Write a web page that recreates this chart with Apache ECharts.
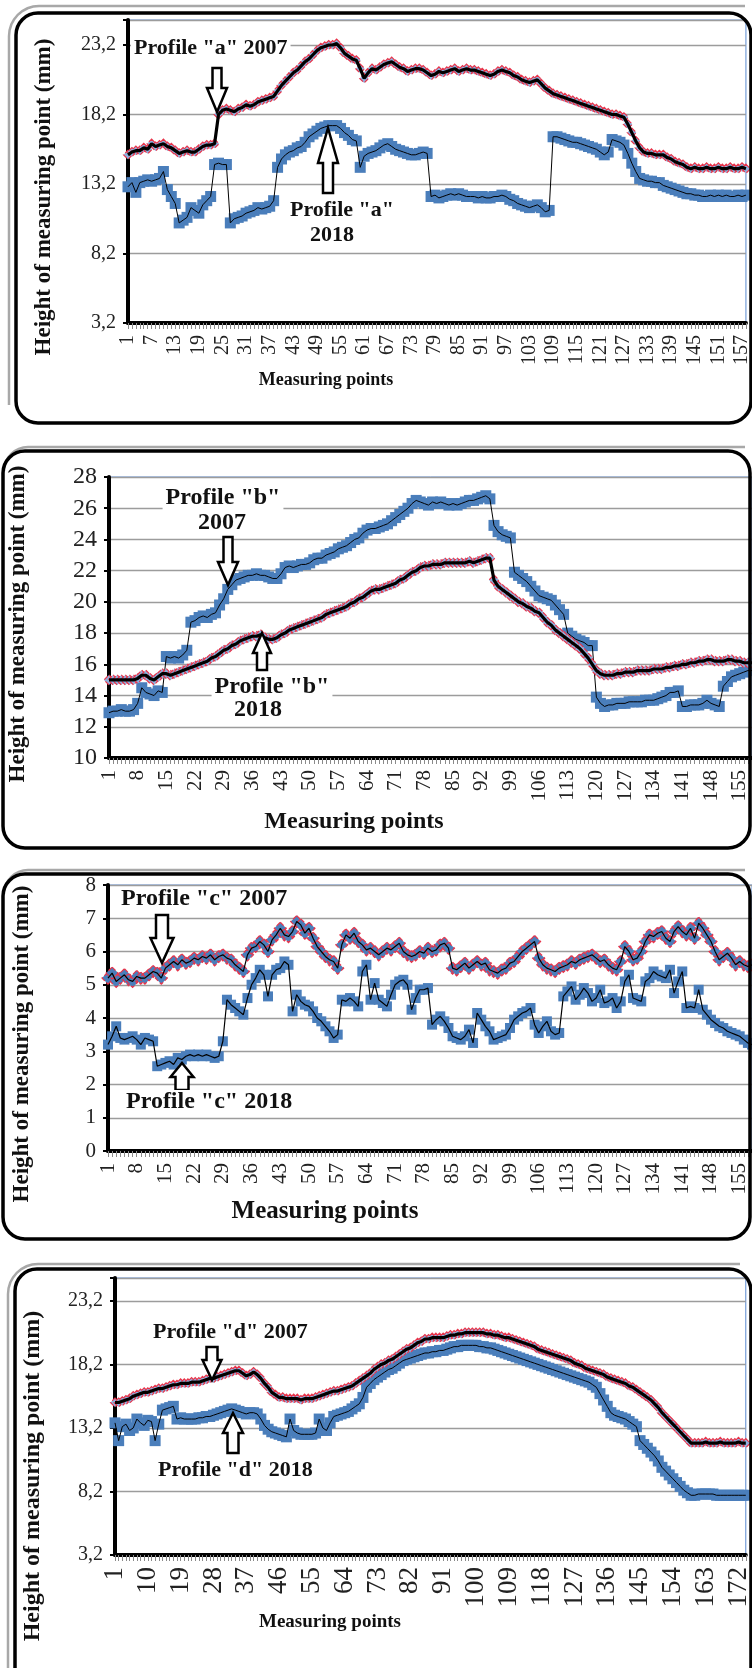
<!DOCTYPE html>
<html>
<head>
<meta charset="utf-8">
<script src="https://cdn.jsdelivr.net/npm/echarts@6/dist/echarts.min.js"></script>
<style>
html,body{margin:0;padding:0;background:#fff;}
#chart{width:752px;height:1668px;}
</style>
</head>
<body>
<div id="chart"></div>
<script>
// ---------- DATA ----------
// Profile "a" (158 measuring points)
const aYear2007 = [15.3,15.5,15.6,15.6,15.8,15.7,16.1,15.9,16.0,16.1,
15.9,15.8,15.6,15.4,15.5,15.6,15.5,15.5,15.7,15.9,
16.0,16.0,16.1,18.2,18.5,18.6,18.5,18.4,18.6,18.7,
18.9,18.8,18.9,19.1,19.2,19.3,19.4,19.5,19.9,20.3,
20.6,20.9,21.2,21.4,21.7,22.0,22.2,22.5,22.8,23.0,
23.1,23.2,23.2,23.3,23.0,22.6,22.4,22.2,22.1,21.5,
20.8,21.2,21.5,21.4,21.6,21.8,21.9,22.0,21.8,21.6,
21.5,21.3,21.4,21.5,21.5,21.4,21.2,21.0,21.1,21.3,
21.2,21.3,21.4,21.5,21.3,21.4,21.5,21.4,21.4,21.3,
21.2,21.1,21.0,21.1,21.3,21.4,21.3,21.2,21.0,20.9,
20.7,20.6,20.5,20.6,20.7,20.4,20.1,19.9,19.7,19.6,
19.5,19.4,19.3,19.2,19.1,19.0,18.9,18.8,18.7,18.6,
18.5,18.4,18.3,18.2,18.2,18.1,18.0,17.5,16.9,16.3,
15.8,15.5,15.4,15.4,15.3,15.3,15.3,15.1,15.0,14.8,
14.7,14.6,14.4,14.3,14.4,14.3,14.3,14.4,14.3,14.3,
14.4,14.3,14.3,14.4,14.3,14.3,14.4,14.3];
const aYear2018 = [13.0,13.3,12.6,13.3,13.4,13.5,13.4,13.5,13.6,14.1,
12.8,12.3,11.8,10.4,10.6,10.8,11.5,11.3,11.1,11.7,
12.0,12.3,14.6,14.7,14.6,14.6,10.4,10.7,10.8,10.9,
11.1,11.2,11.3,11.5,11.4,11.5,11.6,12.0,14.4,15.0,
15.3,15.5,15.6,15.8,15.9,16.2,16.6,16.8,17.0,17.2,
17.3,17.4,17.4,17.4,17.2,16.9,16.7,16.4,16.3,14.4,
15.2,15.4,15.5,15.6,15.8,16.0,16.1,15.9,15.7,15.6,
15.5,15.4,15.3,15.3,15.4,15.5,15.4,12.3,12.4,12.2,
12.3,12.4,12.5,12.4,12.5,12.4,12.3,12.3,12.3,12.2,
12.3,12.2,12.2,12.3,12.3,12.4,12.3,12.1,12.0,11.8,
11.7,11.6,11.5,11.6,11.7,11.5,11.2,11.3,16.6,16.6,
16.5,16.4,16.3,16.2,16.2,16.1,16.0,15.9,15.8,15.7,
15.5,15.3,15.5,16.4,16.3,16.2,16.0,15.4,14.7,14.1,
13.6,13.5,13.4,13.4,13.3,13.3,13.1,13.0,12.9,12.8,
12.7,12.6,12.5,12.5,12.4,12.4,12.3,12.3,12.4,12.3,
12.4,12.3,12.4,12.3,12.3,12.4,12.3,12.4];

// Profile "b" (158 measuring points)
const bYear2007 = [12.9,13.0,13.0,13.1,13.0,13.0,13.1,13.5,14.5,14.2,
14.1,14.0,14.3,14.2,16.5,16.4,16.5,16.4,16.6,16.9,
18.7,18.8,19.0,19.1,19.0,19.2,19.3,19.8,20.2,20.8,
21.1,21.4,21.5,21.6,21.7,21.7,21.8,21.7,21.7,21.6,
21.5,21.5,21.8,22.2,22.3,22.2,22.3,22.4,22.4,22.5,
22.7,22.8,22.8,23.0,23.1,23.2,23.4,23.5,23.6,23.8,
24.0,24.1,24.4,24.6,24.7,24.7,24.8,24.9,25.0,25.2,
25.4,25.6,25.8,26.0,26.3,26.5,26.4,26.3,26.2,26.4,
26.3,26.4,26.3,26.2,26.3,26.2,26.3,26.4,26.5,26.5,
26.6,26.7,26.8,26.6,24.9,24.5,24.3,24.2,24.1,21.9,
21.7,21.5,21.3,21.0,20.7,20.4,20.3,20.2,20.1,19.8,
19.5,19.2,18.0,17.8,17.6,17.5,17.4,17.2,17.2,13.9,
13.5,13.3,13.4,13.4,13.5,13.5,13.5,13.6,13.6,13.6,
13.6,13.7,13.7,13.7,13.8,13.9,14.0,14.2,14.2,14.3,
13.3,13.3,13.4,13.4,13.4,13.5,13.7,13.5,13.4,13.3,
14.6,14.9,15.2,15.3,15.4,15.5,15.6,15.6];
const bYear2018 = [15.0,15.0,15.0,15.0,15.0,15.0,15.0,15.1,15.3,15.3,
15.1,15.0,15.2,15.4,15.4,15.3,15.4,15.5,15.6,15.7,
15.8,15.9,16.0,16.1,16.2,16.4,16.5,16.7,16.9,17.0,
17.2,17.3,17.5,17.6,17.7,17.8,17.8,17.9,17.7,17.6,
17.6,17.7,17.9,18.0,18.2,18.3,18.4,18.5,18.6,18.7,
18.8,18.9,19.0,19.2,19.3,19.4,19.5,19.6,19.7,19.9,
20.0,20.2,20.3,20.5,20.7,20.8,20.8,20.9,21.0,21.1,
21.2,21.4,21.5,21.7,21.9,22.0,22.2,22.3,22.3,22.4,
22.4,22.4,22.5,22.5,22.5,22.5,22.5,22.5,22.6,22.5,
22.6,22.7,22.8,22.8,21.4,21.0,20.8,20.6,20.4,20.2,
20.0,19.9,19.7,19.6,19.4,19.3,19.0,18.7,18.5,18.2,
18.0,17.8,17.6,17.4,17.2,17.0,16.7,16.4,16.0,15.6,
15.4,15.3,15.3,15.3,15.4,15.4,15.5,15.5,15.5,15.6,
15.6,15.6,15.6,15.7,15.7,15.7,15.8,15.8,15.9,15.9,
16.0,16.0,16.1,16.1,16.2,16.2,16.3,16.3,16.2,16.2,
16.2,16.3,16.3,16.2,16.2,16.1,16.1,16.1];

// Profile "c" (158 measuring points)
const cYear2007 = [5.2,5.35,5.1,5.2,5.3,5.15,5.1,5.25,5.2,5.2,
5.3,5.4,5.35,5.2,5.5,5.6,5.7,5.6,5.75,5.65,
5.7,5.8,5.75,5.85,5.8,5.9,5.75,5.85,5.9,5.8,
5.75,5.6,5.5,5.4,5.9,6.1,6.15,6.3,6.2,6.0,
6.35,6.5,6.7,6.5,6.45,6.6,6.9,6.8,6.55,6.7,
6.4,6.15,6.0,5.85,5.75,5.7,5.5,6.2,6.5,6.4,
6.55,6.3,6.2,6.05,6.1,6.0,5.9,6.0,6.1,6.05,
6.15,6.25,6.0,5.9,5.85,5.9,6.0,5.95,6.1,6.0,
6.05,6.2,6.25,6.1,5.5,5.45,5.55,5.65,5.5,5.6,
5.7,5.6,5.65,5.45,5.4,5.35,5.45,5.5,5.65,5.7,
5.85,6.0,6.1,6.2,6.3,5.8,5.6,5.5,5.45,5.4,
5.5,5.55,5.6,5.7,5.65,5.75,5.8,5.85,5.9,5.8,
5.7,5.75,5.6,5.5,5.45,5.7,6.15,6.0,5.75,5.8,
6.0,6.3,6.5,6.45,6.55,6.6,6.4,6.3,6.6,6.75,
6.6,6.5,6.7,6.4,6.85,6.7,6.5,6.3,6.0,5.75,
5.85,5.95,5.8,5.6,5.7,5.6,5.55,5.6];
const cYear2018 = [3.2,3.45,3.75,3.4,3.35,3.4,3.45,3.35,3.2,3.4,
3.35,3.3,2.55,2.6,2.65,2.7,2.6,2.8,2.75,2.85,
2.9,2.85,2.9,2.85,2.9,2.85,2.8,2.85,3.3,4.55,
4.4,4.3,4.2,4.1,4.6,5.0,5.2,5.45,5.3,4.65,
5.3,5.45,5.5,5.7,5.6,4.2,4.7,4.5,4.4,4.35,
4.2,4.0,3.9,3.75,3.6,3.4,3.5,4.55,4.5,4.6,
4.5,4.35,5.4,5.6,4.55,5.05,4.55,4.45,4.35,4.7,
5.0,5.1,5.15,5.0,4.25,4.6,4.85,4.85,4.9,3.8,
3.95,4.05,3.9,3.7,3.45,3.4,3.35,3.45,3.65,3.25,
4.15,3.95,3.75,3.6,3.35,3.4,3.45,3.5,3.7,3.95,
4.05,4.15,4.2,4.3,3.8,3.55,3.75,3.9,3.6,3.5,
3.55,4.65,4.8,4.95,4.55,4.7,4.9,4.75,4.5,4.6,
4.85,4.45,4.5,4.6,4.3,4.5,5.1,5.3,4.6,4.55,
4.5,5.1,5.2,5.4,5.3,5.25,5.2,5.45,4.75,5.1,
5.4,4.3,4.35,4.3,4.85,4.25,4.1,3.95,3.85,3.75,
3.7,3.6,3.55,3.5,3.45,3.35,3.25,3.2];

// Profile "d" (174 measuring points)
const dYear2007 = [15.2,15.2,15.3,15.4,15.5,15.7,15.8,15.9,16.0,16.0,
16.1,16.2,16.3,16.3,16.4,16.5,16.6,16.6,16.7,16.7,
16.7,16.8,16.8,16.8,16.9,17.0,17.1,17.1,17.2,17.3,
17.4,17.5,17.6,17.7,17.7,17.5,17.3,17.4,17.6,17.4,
17.1,16.7,16.4,16.0,15.8,15.6,15.6,15.5,15.5,15.5,
15.5,15.4,15.5,15.5,15.5,15.6,15.7,15.8,15.9,16.0,
16.1,16.1,16.2,16.3,16.4,16.5,16.7,16.9,17.1,17.3,
17.5,17.8,18.0,18.2,18.3,18.5,18.6,18.8,19.0,19.2,
19.4,19.5,19.7,19.9,20.0,20.2,20.2,20.3,20.3,20.3,
20.3,20.4,20.5,20.5,20.6,20.6,20.7,20.7,20.7,20.7,
20.7,20.7,20.6,20.6,20.5,20.5,20.4,20.3,20.3,20.2,
20.1,20.0,19.9,19.8,19.7,19.6,19.4,19.3,19.2,19.1,
19.0,18.9,18.8,18.7,18.6,18.5,18.3,18.2,18.1,17.9,
17.8,17.7,17.6,17.5,17.4,17.2,17.1,17.0,16.9,16.8,
16.7,16.5,16.4,16.2,16.0,15.8,15.6,15.4,15.1,14.8,
14.4,14.1,13.8,13.5,13.2,12.9,12.6,12.3,12.0,12.0,
12.0,12.0,12.1,12.0,12.0,12.0,12.1,12.0,12.0,12.0,
12.0,12.1,12.0,12.0];
const dYear2018 = [13.6,12.2,13.3,13.5,13.0,13.2,13.9,13.6,13.4,13.8,
13.7,12.2,13.5,14.6,14.7,14.8,14.9,13.9,14.0,13.9,
13.9,13.9,13.9,14.0,14.0,14.1,14.1,14.2,14.3,14.4,
14.5,14.6,14.7,14.6,14.5,14.4,14.3,14.4,14.4,14.3,
13.9,13.4,13.1,12.9,12.8,12.7,12.6,12.5,13.9,13.0,
12.8,12.7,12.7,12.7,12.7,12.8,13.9,13.2,13.0,13.6,
14.1,14.2,14.3,14.4,14.5,14.7,14.9,15.1,15.6,16.4,
16.7,17.0,17.2,17.4,17.6,17.8,17.9,18.1,18.3,18.5,
18.6,18.7,18.8,18.9,19.0,19.1,19.1,19.2,19.2,19.3,
19.3,19.4,19.5,19.6,19.6,19.7,19.7,19.7,19.7,19.7,
19.6,19.6,19.5,19.5,19.4,19.3,19.2,19.1,19.0,18.9,
18.8,18.7,18.6,18.5,18.4,18.3,18.2,18.1,18.0,17.9,
17.8,17.7,17.6,17.5,17.4,17.3,17.2,17.1,17.0,16.9,
16.8,16.6,16.4,15.9,15.4,14.9,14.4,14.2,14.1,14.0,
13.9,13.7,13.5,13.3,12.2,11.9,11.6,11.3,11.0,10.6,
10.1,9.8,9.5,9.2,8.9,8.6,8.3,8.1,7.9,7.9,
8.0,8.0,8.0,8.0,8.0,7.9,7.9,7.9,7.9,7.9,
7.9,7.9,7.9,7.9];

// y tick labels (as printed, decimal comma)
const ticksAD = ['3,2','8,2','13,2','18,2','23,2'];

function cats(n){ const c=[]; for(let i=1;i<=n;i++) c.push(String(i)); return c; }
const catsA = cats(aYear2007.length);
const catsB = cats(bYear2007.length);
const catsC = cats(cYear2007.length);
const catsD = cats(dYear2007.length);

// ---------- STYLE ----------
const FONT = "'Liberation Serif','Times New Roman',serif";
const BLUE = '#4a7ebb';
const RED = '#e8344a';

const chart = echarts.init(document.getElementById('chart'), null, {renderer:'canvas'});

const grids = [
  {left:128, top:20, width:619, height:303},
  {left:109, top:477, width:648, height:281},
  {left:108, top:885, width:650, height:266},
  {left:115, top:1278, width:632, height:277}
].map(g => Object.assign(g, {show:true, borderColor:'#5b8bd0', borderWidth:1, backgroundColor:'transparent'}));

function xAxis(i, data, interval, fontSize, margin){
  return {
    type:'category', gridIndex:i, data:data, boundaryGap:false,
    axisLine:{show:true, onZero:false, lineStyle:{color:'#000', width:4}},
    axisTick:{show:true, interval:0, length:6, lineStyle:{color:'#8a8a8a', width:1}},
    axisLabel:{interval:interval, rotate:90, fontFamily:FONT, fontSize:fontSize, color:'#222', margin:margin},
    splitLine:{show:false}
  };
}
function yAxis(i, min, max, interval, fontSize, fmt){
  return {
    type:'value', gridIndex:i, min:min, max:max, interval:interval,
    axisLine:{show:true, lineStyle:{color:'#000', width:4}},
    axisTick:{show:true, length:5, lineStyle:{color:'#000', width:2}},
    axisLabel:{fontFamily:FONT, fontSize:fontSize, color:'#222', margin:12, formatter:fmt},
    splitLine:{show:true, lineStyle:{color:'#9c9c9c', width:1.3}}
  };
}
function fmtAD(v){
  const k = Math.round((v-3.2)/5);
  if (Math.abs(v-(3.2+5*k))<1e-6 && k>=0 && k<ticksAD.length) return ticksAD[k];
  return '';
}

function markers(idx, data, symbol, size, fill, border, borderType, z){
  return {type:'line', xAxisIndex:idx, yAxisIndex:idx, data:data, z:z,
    symbol:symbol, symbolSize:size, showSymbol:true, showAllSymbol:true,
    lineStyle:{opacity:0, width:0},
    itemStyle:{color:fill, borderColor:border||fill, borderWidth:border?1.2:0, borderType:borderType||'solid'},
    emphasis:{disabled:true}, silent:true};
}
function line(idx, data, width, z){
  return {type:'line', xAxisIndex:idx, yAxisIndex:idx, data:data, z:z,
    symbol:'none', lineStyle:{color:'#000', width:width},
    emphasis:{disabled:true}, silent:true};
}

const series = [
  // a
  markers(0, aYear2018, 'rect', 11, BLUE, null, null, 2),
  line(0, aYear2018, 1, 3),
  markers(0, aYear2007, 'diamond', 9, '#8fb2e0', RED, 'dashed', 4),
  line(0, aYear2007, 3.2, 5),
  // b
  markers(1, bYear2007, 'rect', 11, BLUE, null, null, 2),
  line(1, bYear2007, 1, 3),
  markers(1, bYear2018, 'diamond', 10, '#8fb2e0', RED, 'dashed', 4),
  line(1, bYear2018, 3.2, 5),
  // c
  markers(2, cYear2018, 'rect', 10, BLUE, null, null, 2),
  line(2, cYear2018, 1.2, 3),
  markers(2, cYear2007, 'diamond', 12, BLUE, RED, 'dashed', 4),
  line(2, cYear2007, 1.2, 5),
  // d
  markers(3, dYear2018, 'rect', 11, BLUE, null, null, 2),
  line(3, dYear2018, 1, 3),
  markers(3, dYear2007, 'diamond', 9, '#8fb2e0', RED, 'dashed', 4),
  line(3, dYear2007, 3.2, 5)
];

// ---------- ANNOTATIONS ----------
function downArrow(cx, top, base, tip, hh, sh){
  return {type:'polygon', z:100, shape:{points:[[cx-sh,top],[cx+sh,top],[cx+sh,base],[cx+hh,base],[cx,tip],[cx-hh,base],[cx-sh,base]]},
    style:{fill:'#fff', stroke:'#000', lineWidth:2.5}};
}
function upArrow(cx, tip, base, bottom, hh, sh){
  return {type:'polygon', z:100, shape:{points:[[cx,tip],[cx+hh,base],[cx+sh,base],[cx+sh,bottom],[cx-sh,bottom],[cx-sh,base],[cx-hh,base]]},
    style:{fill:'#fff', stroke:'#000', lineWidth:2.5}};
}
function txt(str, x, y, size, align, bg, rot){
  const el = {type:'text', z:100, x:x, y:y, rotation:rot||0,
    style:{text:str, fontFamily:FONT, fontWeight:'bold', fontSize:size, fill:'#111',
      align:align||'left', verticalAlign:'middle'}};
  if (bg) { el.style.backgroundColor = '#fff'; el.style.padding = [0,3]; }
  return el;
}
function frame(x, y, w, h, r){
  return {type:'rect', z:90, shape:{x:x, y:y, width:w, height:h, r:r}, style:{fill:'none', stroke:'#000', lineWidth:3.5}};
}
// grey outer shadow of a frame: left edge from yBottom up, rounded corner, top edge to xRight
function shadow(x, y, yBottom, xRight, r){
  const pts = [[x, yBottom]];
  for (let k=0;k<=8;k++){ const t = Math.PI - k*Math.PI/16; pts.push([x + r + r*Math.cos(t), y + r - r*Math.sin(t)]); }
  pts.push([xRight, y]);
  return {type:'polyline', z:89, shape:{points:pts}, style:{fill:null, stroke:'#a8a8a8', lineWidth:2.5}};
}

const graphic = [
  // frames
  shadow(9, 6, 405, 745, 30),
  frame(16, 13, 735, 410, 22),
  shadow(4, 447, 470, 745, 24),
  frame(3, 451, 747, 397, 22),
  shadow(4, 870, 893, 745, 24),
  frame(3, 874, 747, 365, 22),
  shadow(8, 1264, 1668, 740, 30),
  frame(15, 1269, 736, 430, 22),

  // panel a
  txt('Profile "a" 2007', 131, 48, 22, 'left', true),
  downArrow(217, 68, 88, 112, 10, 4.5),
  upArrow(328, 128, 163, 193, 10, 5),
  txt('Profile "a"', 342, 210, 22, 'center', true),
  txt('2018', 332, 235, 22, 'center', true),
  txt('Height of measuring point (mm)', 44, 197, 23, 'center', false, Math.PI/2),
  txt('Measuring points', 326, 380, 18, 'center'),

  // panel b
  txt('Profile "b"', 223, 498, 24, 'center', true),
  txt('2007', 222, 523, 24, 'center', true),
  downArrow(228, 537, 562, 585, 10, 4.5),
  upArrow(262, 633, 653, 670, 9, 5),
  txt('Profile "b"', 272, 687, 24, 'center', true),
  txt('2018', 258, 710, 24, 'center', true),
  txt('Height of measuring point (mm)', 18, 624, 23, 'center', false, Math.PI/2),
  txt('Measuring points', 354, 822, 24, 'center'),

  // panel c
  txt('Profile "c" 2007', 118, 899, 24, 'left', true),
  downArrow(162, 915, 938, 963, 11.5, 6),
  upArrow(182, 1063, 1077, 1090, 11.5, 6.5),
  txt('Profile "c" 2018', 123, 1102, 24, 'left', true),
  txt('Height of measuring point (mm)', 22, 1044, 23, 'center', false, Math.PI/2),
  txt('Measuring points', 325, 1212, 25, 'center'),

  // panel d
  txt('Profile "d" 2007', 150, 1332, 22, 'left', true),
  downArrow(212, 1347, 1360, 1380, 9.5, 5.5),
  upArrow(233, 1413, 1433, 1453, 10, 5.5),
  txt('Profile "d" 2018', 155, 1470, 22, 'left', true),
  txt('Height of measuring point (mm)', 33, 1476, 24, 'center', false, Math.PI/2),
  txt('Measuring points', 330, 1622, 19, 'center')
];

chart.setOption({
  animation:false,
  backgroundColor:'#fff',
  grid:grids,
  xAxis:[
    xAxis(0, catsA, 5, 20, 12),
    xAxis(1, catsB, 6, 21, 12),
    xAxis(2, catsC, 6, 21, 12),
    xAxis(3, catsD, 8, 27, 12)
  ],
  yAxis:[
    yAxis(0, 3.2, 25, 5, 20, fmtAD),
    yAxis(1, 10, 28, 2, 24, v => String(v)),
    yAxis(2, 0, 8, 1, 21, v => String(v)),
    yAxis(3, 3.2, 25, 5, 20, fmtAD)
  ],
  series:series,
  graphic:graphic
});
</script>
</body>
</html>
